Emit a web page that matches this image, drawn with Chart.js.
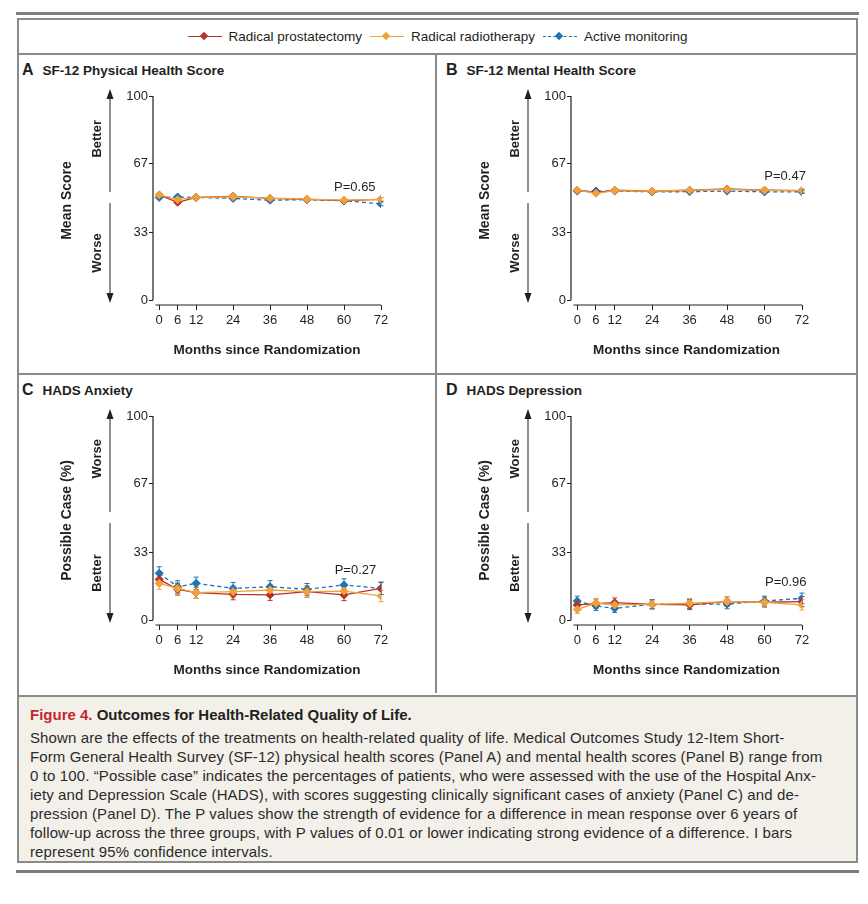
<!DOCTYPE html>
<html>
<head>
<meta charset="utf-8">
<script src="https://cdn.jsdelivr.net/npm/chart.js"></script>
<style>
  body{margin:0;background:#fff;font-family:"Liberation Sans",Arial,sans-serif;color:#231f20;}
  .rule{position:absolute;left:16px;width:843px;height:3px;background:#7d7d7d;}
  .box{position:absolute;left:17px;top:18px;width:841px;height:845px;border:2px solid #8a8a8a;box-sizing:border-box;}
  .legend{position:absolute;left:0;top:0;width:837px;height:33px;border-bottom:2px solid #8a8a8a;
          display:flex;justify-content:center;align-items:center;font-size:13.5px;}
  .item{display:flex;align-items:center;margin:0 4px;}
  .mark{position:relative;width:34px;height:10px;margin-right:7px;}
  .mark .ln{position:absolute;left:0;right:0;top:4px;border-top:1.5px solid;}
  .mark .dm{position:absolute;left:13px;top:1.5px;width:6px;height:6px;transform:rotate(45deg);}
  .panel{position:absolute;height:318px;}
  .panel canvas{position:absolute;left:0;top:0;}
  .ptitle{position:absolute;top:6px;font-weight:bold;font-size:13.5px;white-space:nowrap;}
  .ptitle .lt{font-size:16px;font-weight:bold;margin-right:9px;}
  .caption{position:absolute;left:0;top:675px;width:837px;height:166px;background:#f3f0ea;
           border-top:2px solid #8a8a8a;box-sizing:border-box;padding:8px 0 0 11px;
           font-size:15px;letter-spacing:0.12px;line-height:19px;color:#2b2b2b;white-space:nowrap;}
  .caption .hd{font-weight:bold;font-size:15px;letter-spacing:0;margin-bottom:4px;color:#231f20;}
  .caption .hd span{color:#c0282d;}
</style>
</head>
<body>
<div class="rule" style="top:12px"></div>
<div class="box">
  <div class="legend" id="legend"></div>
  <div class="panel" style="left:0;top:35px;width:416px;border-right:2px solid #8a8a8a;border-bottom:2px solid #8a8a8a;">
    <div class="ptitle" style="left:3px"><span class="lt">A</span>SF-12 Physical Health Score</div>
    <canvas id="pA" width="416" height="318"></canvas>
  </div>
  <div class="panel" style="left:418px;top:35px;width:419px;border-bottom:2px solid #8a8a8a;">
    <div class="ptitle" style="left:9px"><span class="lt">B</span>SF-12 Mental Health Score</div>
    <canvas id="pB" width="419" height="318"></canvas>
  </div>
  <div class="panel" style="left:0;top:355px;width:416px;border-right:2px solid #8a8a8a;">
    <div class="ptitle" style="left:3px"><span class="lt">C</span>HADS Anxiety</div>
    <canvas id="pC" width="416" height="318"></canvas>
  </div>
  <div class="panel" style="left:418px;top:355px;width:419px;">
    <div class="ptitle" style="left:9px"><span class="lt">D</span>HADS Depression</div>
    <canvas id="pD" width="419" height="318"></canvas>
  </div>
  <div class="caption">
    <div class="hd"><span>Figure 4.</span> Outcomes for Health-Related Quality of Life.</div>
    Shown are the effects of the treatments on health-related quality of life. Medical Outcomes Study 12-Item Short-<br>
    Form General Health Survey (SF-12) physical health scores (Panel A) and mental health scores (Panel B) range from<br>
    0 to 100. “Possible case” indicates the percentages of patients, who were assessed with the use of the Hospital Anx-<br>
    iety and Depression Scale (HADS), with scores suggesting clinically significant cases of anxiety (Panel C) and de-<br>
    pression (Panel D). The P values show the strength of evidence for a difference in mean response over 6 years of<br>
    follow-up across the three groups, with P values of 0.01 or lower indicating strong evidence of a difference. I bars<br>
    represent 95% confidence intervals.
  </div>
</div>
<div class="rule" style="top:870px"></div>

<script>
// x axis (months since randomization) and y ticks
const months = [0, 6, 12, 24, 36, 48, 60, 72];
const yTicks = [0, 33, 67, 100];
const groups = ['Radical prostatectomy', 'Radical radiotherapy', 'Active monitoring'];
const colors = ['#b8322a', '#f0a23a', '#1f74b4'];

// A: SF-12 physical health score
const physRP = [51.5, 47.9, 50.3, 50.8, 49.8, 49.3, 48.7, 49.3];
const physRR = [51.5, 49.2, 50.3, 50.6, 49.9, 49.4, 49.0, 49.3];
const physAM = [50.3, 50.5, 50.3, 49.8, 48.9, 49.2, 48.7, 47.1];
const physErr = [0.8, 0.8, 0.8, 0.8, 0.8, 0.8, 0.8, 0.9];

// B: SF-12 mental health score
const mentRP = [53.8, 52.6, 53.8, 53.3, 53.8, 54.4, 53.8, 53.6];
const mentRR = [53.9, 52.3, 53.6, 53.3, 53.8, 54.2, 53.8, 53.6];
const mentAM = [53.4, 53.4, 53.4, 53.0, 53.1, 53.4, 53.0, 53.0];
const mentErr = [0.7, 0.7, 0.7, 0.7, 0.7, 0.7, 0.7, 0.8];

// C: HADS anxiety, possible case (%)
const anxRP = [19.9, 15.0, 13.4, 12.6, 12.3, 13.9, 12.3, 15.5];
const anxRR = [18.0, 15.5, 13.4, 13.9, 14.7, 13.9, 14.2, 11.8];
const anxAM = [22.9, 16.3, 18.0, 15.5, 16.3, 15.0, 17.2, 15.5];
const anxErrRP = [3.0, 2.8, 2.7, 2.7, 2.7, 2.8, 2.8, 3.0];
const anxErrRR = [3.0, 2.8, 2.8, 2.8, 2.8, 2.8, 2.8, 2.8];
const anxErrAM = [3.2, 3.0, 3.0, 2.9, 3.0, 2.9, 3.0, 3.0];

// D: HADS depression, possible case (%)
const depRP = [7.4, 8.0, 8.5, 7.7, 7.4, 9.0, 8.7, 9.0];
const depRR = [5.2, 8.2, 7.4, 7.7, 8.2, 9.0, 8.7, 7.4];
const depAM = [9.3, 6.9, 5.7, 7.7, 7.8, 7.8, 9.3, 10.6];
const depErrRP = [2.2, 2.3, 2.3, 2.2, 2.3, 2.4, 2.4, 2.5];
const depErrRR = [2.0, 2.3, 2.2, 2.2, 2.4, 2.4, 2.4, 2.5];
const depErrAM = [2.4, 2.2, 2.0, 2.2, 2.3, 2.3, 2.4, 2.6];

const panels = [
  {id:'pA', yTitle:'Mean Score', up:'Better', down:'Worse', p:'P=0.65', pAt:[63.5, 55.2],
   vals:[physRP, physRR, physAM], errs:[physErr, physErr, physErr]},
  {id:'pB', yTitle:'Mean Score', up:'Better', down:'Worse', p:'P=0.47', pAt:[66.6, 60.4],
   vals:[mentRP, mentRR, mentAM], errs:[mentErr, mentErr, mentErr]},
  {id:'pC', yTitle:'Possible Case (%)', up:'Worse', down:'Better', p:'P=0.27', pAt:[63.7, 24.5],
   vals:[anxRP, anxRR, anxAM], errs:[anxErrRP, anxErrRR, anxErrAM]},
  {id:'pD', yTitle:'Possible Case (%)', up:'Worse', down:'Better', p:'P=0.96', pAt:[66.8, 18.4],
   vals:[depRP, depRR, depAM], errs:[depErrRP, depErrRR, depErrAM]}
];

const ink = '#231f20';
const FONT = '"Liberation Sans", Arial, sans-serif';

// legend
const legend = document.getElementById('legend');
groups.forEach((g, i) => {
  const it = document.createElement('div');
  it.className = 'item';
  it.innerHTML = '<div class="mark"><div class="ln" style="border-top-color:' + colors[i] +
    (i === 2 ? ';border-top-style:dashed' : '') + '"></div><div class="dm" style="background:' +
    colors[i] + '"></div></div><span>' + g + '</span>';
  legend.appendChild(it);
});

// error bars, axis lines, arrows, annotations
const decor = {
  id: 'decor',
  beforeDatasetsDraw(chart) {
    const {ctx, scales: {x, y}} = chart;
    ctx.save();
    ctx.lineWidth = 1;
    chart.data.datasets.forEach(ds => {
      ctx.strokeStyle = ds.borderColor;
      ds.data.forEach((v, i) => {
        const e = ds.errors[i];
        const px = x.getPixelForValue(months[i]);
        const y1 = y.getPixelForValue(v - e), y2 = y.getPixelForValue(v + e);
        ctx.beginPath();
        ctx.moveTo(px, y1); ctx.lineTo(px, y2);
        ctx.moveTo(px - 2.5, y1); ctx.lineTo(px + 2.5, y1);
        ctx.moveTo(px - 2.5, y2); ctx.lineTo(px + 2.5, y2);
        ctx.stroke();
      });
    });
    ctx.restore();
  },
  afterDraw(chart, args, opts) {
    const {ctx, chartArea, scales: {x, y}} = chart;
    ctx.save();
    ctx.strokeStyle = ink;
    ctx.fillStyle = ink;
    ctx.lineWidth = 1.2;
    // detached axis lines
    ctx.beginPath();
    ctx.moveTo(chartArea.left, y.getPixelForValue(100));
    ctx.lineTo(chartArea.left, y.getPixelForValue(0));
    ctx.moveTo(x.getPixelForValue(-1.2), chartArea.bottom);
    ctx.lineTo(x.getPixelForValue(72), chartArea.bottom);
    ctx.stroke();
    // better / worse arrow
    const ax = chartArea.left - 43;
    const top = y.getPixelForValue(100) - 7, bot = y.getPixelForValue(0) + 3;
    const mid = y.getPixelForValue(50);
    ctx.lineWidth = 1;
    ctx.beginPath();
    ctx.moveTo(ax, top + 8); ctx.lineTo(ax, mid - 6);
    ctx.moveTo(ax, mid + 5); ctx.lineTo(ax, bot - 8);
    ctx.stroke();
    ctx.beginPath();
    ctx.moveTo(ax, top); ctx.lineTo(ax - 3.5, top + 10); ctx.lineTo(ax + 3.5, top + 10); ctx.closePath();
    ctx.moveTo(ax, bot); ctx.lineTo(ax - 3.5, bot - 10); ctx.lineTo(ax + 3.5, bot - 10); ctx.closePath();
    ctx.fill();
    ctx.font = 'bold 13px ' + FONT;
    ctx.textAlign = 'center';
    ctx.textBaseline = 'middle';
    [[opts.up, 79], [opts.down, 23]].forEach(([t, v]) => {
      ctx.save();
      ctx.translate(chartArea.left - 56, y.getPixelForValue(v));
      ctx.rotate(-Math.PI / 2);
      ctx.fillText(t, 0, 0);
      ctx.restore();
    });
    // p value
    ctx.font = '13px ' + FONT;
    ctx.fillText(opts.p, x.getPixelForValue(opts.pAt[0]), y.getPixelForValue(opts.pAt[1]));
    ctx.restore();
  }
};

panels.forEach(p => {
  const datasets = groups.map((g, i) => ({
    label: g,
    data: p.vals[i],
    errors: p.errs[i],
    borderColor: colors[i],
    backgroundColor: colors[i],
    borderWidth: 1.3,
    borderDash: i === 2 ? [4, 3] : [],
    pointStyle: 'rectRot',
    pointRadius: 4,
    pointBorderWidth: 1,
    tension: 0,
    order: [1, 0, 2][i]
  }));
  new Chart(document.getElementById(p.id), {
    type: 'line',
    data: {labels: months, datasets},
    plugins: [decor],
    options: {
      responsive: false,
      animation: false,
      layout: {padding: {left: 40, top: 41, right: 54, bottom: 15}},
      plugins: {
        legend: {display: false},
        tooltip: {enabled: false},
        decor: {up: p.up, down: p.down, p: p.p, pAt: p.pAt}
      },
      scales: {
        x: {
          type: 'linear', min: -2, max: 72,
          afterBuildTicks: s => { s.ticks = months.map(v => ({value: v})); },
          afterFit: s => { s.height = 53; },
          grid: {drawOnChartArea: false, drawTicks: true, tickLength: 5, color: ink},
          border: {display: false},
          ticks: {color: ink, font: {family: FONT, size: 13}, padding: 3, maxRotation: 0},
          title: {display: true, text: 'Months since Randomization', color: ink,
                  font: {family: FONT, size: 13.5, weight: 'bold'}, padding: 0}
        },
        y: {
          min: -2.45, max: 100,
          afterBuildTicks: s => { s.ticks = yTicks.map(v => ({value: v})); },
          afterFit: s => { s.width = 94; },
          grid: {drawOnChartArea: false, drawTicks: true, tickLength: 4, color: ink},
          border: {display: false},
          ticks: {color: ink, font: {family: FONT, size: 13}, padding: 1},
          title: {display: true, text: p.yTitle, color: ink,
                  font: {family: FONT, size: 14, weight: 'bold'}, padding: 0}
        }
      }
    }
  });
});
</script>
</body>
</html>
